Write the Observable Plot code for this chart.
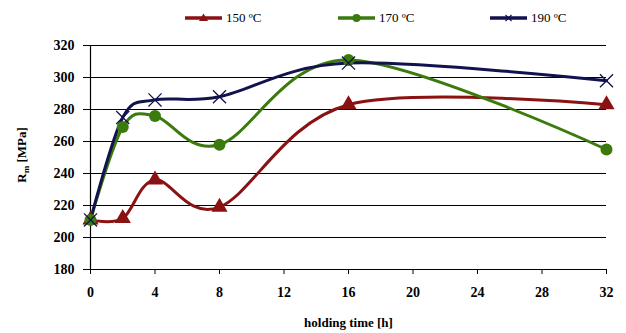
<!DOCTYPE html>
<html>
<head>
<meta charset="utf-8">
<script src="https://cdn.jsdelivr.net/npm/d3@7"></script>
<script src="https://cdn.jsdelivr.net/npm/@observablehq/plot@0.6"></script>
<style>
  html, body { margin: 0; padding: 0; background: #fff; }
  #wrap { position: relative; width: 626px; height: 333px; overflow: hidden; font-family: "Liberation Serif", "Times New Roman", serif; }
  #legend { position: absolute; left: 0; top: 0; width: 626px; height: 36px; }
  .lg { position: absolute; top: 10px; height: 16px; display: flex; align-items: center; font-size: 13px; font-weight: normal; color: #000; }
  .lg svg { margin-right: 4px; }
  #chart { position: absolute; left: 0; top: 36px; }
  #chart svg, #chart svg text { font-family: "Liberation Serif", "Times New Roman", serif !important; }
</style>
</head>
<body>
<div id="wrap">
  <div id="legend"></div>
  <div id="chart"></div>
</div>
<script>
const times = [0, 2, 4, 8, 16, 32];
const r150 = [211, 212, 236, 219, 283, 283];
const r170 = [211, 269, 276, 258, 311, 255];
const r190 = [211, 275, 286, 288, 309, 298];
const seriesNames = ["150 ºC", "170 ºC", "190 ºC"];
const seriesColors = ["#8a1212", "#3b7a0c", "#12124e"];
const seriesSymbols = ["triangle", "circle", "times"];
const xTicks = [0, 4, 8, 12, 16, 20, 24, 28, 32];
const yTicks = [180, 200, 220, 240, 260, 280, 300, 320];
const xTitle = "holding time [h]";

const FONT = "'Liberation Serif', 'Times New Roman', serif";
const allValues = [r150, r170, r190];
const data = [];
allValues.forEach((vals, s) => vals.forEach((v, i) => data.push({series: seriesNames[s], t: times[i], r: v})));

// legend
const legendX = [185, 338, 490];
const legend = document.getElementById("legend");
seriesNames.forEach((name, i) => {
  const d = document.createElement("div");
  d.className = "lg";
  d.style.left = legendX[i] + "px";
  const sym = seriesSymbols[i];
  let marker = "";
  if (sym === "triangle") marker = `<path d="M18.5,3.5 L23,11 L14,11 Z" fill="${seriesColors[i]}"/>`;
  else if (sym === "circle") marker = `<circle cx="18.5" cy="8" r="4" fill="${seriesColors[i]}"/>`;
  else marker = `<path d="M15.5,5 L21.5,11 M21.5,5 L15.5,11" stroke="${seriesColors[i]}" stroke-width="1.2"/>`;
  d.innerHTML = `<svg width="37" height="16"><line x1="0" x2="37" y1="8" y2="8" stroke="${seriesColors[i]}" stroke-width="3.5"/>${marker}</svg><span>${name}</span>`;
  legend.appendChild(d);
});

const W = 626, H = 297;
const plot = Plot.plot({
  width: W,
  height: H,
  marginLeft: 90,
  marginRight: 20,
  marginTop: 9,
  marginBottom: 64,
  style: {fontFamily: FONT, fontSize: "14px", background: "#fff", color: "#000"},
  x: {domain: [0, 32], ticks: xTicks, tickSize: 5, tickPadding: 13, label: null},
  y: {domain: [180, 320], ticks: yTicks, tickSize: 7, tickPadding: 9, label: null},
  color: {domain: seriesNames, range: seriesColors},
  symbol: {domain: seriesNames, range: seriesSymbols},
  marks: [
    Plot.ruleY(yTicks, {stroke: "#000", strokeWidth: 1}),
    Plot.ruleX([0], {stroke: "#000", strokeWidth: 1.2}),
    Plot.line(data, {x: "t", y: "r", z: "series", stroke: "series", strokeWidth: 3, curve: "cardinal"}),
    Plot.dot(data.filter(d => d.series !== seriesNames[2]), {x: "t", y: "r", symbol: "series", fill: "series", r: 6, stroke: "none"}),
    Plot.dot(data.filter(d => d.series === seriesNames[2]), {x: "t", y: "r", symbol: "series", stroke: "series", r: 6, strokeWidth: 1.3, fill: "none"}),
    Plot.text([xTitle], {frameAnchor: "bottom", dy: 57, text: d => d, fontWeight: "bold", fontSize: 13})
  ]
});

const svg = d3.select(plot);
svg.style("font-family", FONT).style("font-size", "14px");
svg.selectAll("text").style("font-family", FONT);
svg.selectAll("g[aria-label='x-axis tick label'] text, g[aria-label='y-axis tick label'] text, g[aria-label='x-axis'] text, g[aria-label='y-axis'] text")
  .style("font-weight", "bold").style("font-size", "14px");

// y axis title with subscript
const yt = svg.append("text")
  .attr("transform", `translate(26,${155 - 36}) rotate(-90)`)
  .attr("text-anchor", "middle")
  .style("font-family", FONT)
  .attr("font-size", 13)
  .attr("font-weight", "bold")
  .attr("fill", "#000");
yt.append("tspan").text("R");
yt.append("tspan").attr("font-size", 9).attr("dy", 3).text("m");
yt.append("tspan").attr("dy", -3).text(" [MPa]");

document.getElementById("chart").appendChild(plot);
</script>
</body>
</html>
